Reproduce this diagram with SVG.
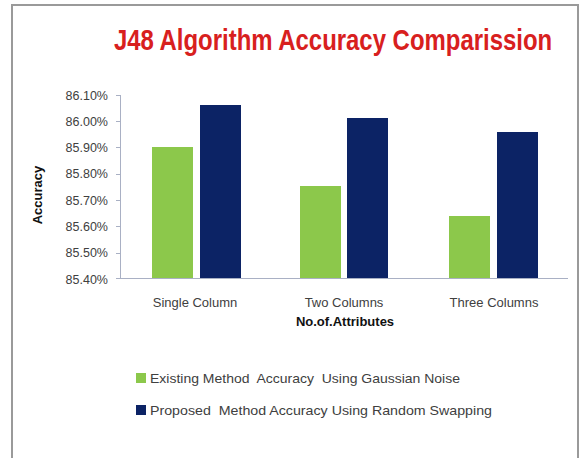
<svg xmlns="http://www.w3.org/2000/svg" width="581" height="458" viewBox="0 0 581 458">
<style>
.t{font-family:"Liberation Sans",Arial,sans-serif;fill:#404040}
.tick{font-size:12.5px;text-anchor:end}
.cat{font-size:13px;text-anchor:middle}
.ax{stroke:#A9B0C4;stroke-width:1;fill:none}
.g{fill:#8CC84B}
.n{fill:#0C2365}
.pre{white-space:pre}
</style>
<rect x="0" y="0" width="581" height="458" fill="#fff"/>
<path d="M12,460 V5 H578 V460" fill="none" stroke="#9a9a9a" stroke-width="2"/>
<g id="title">
<text transform="translate(333,50) scale(0.825,1)" text-anchor="middle" style="font-family:'Liberation Sans',Arial,sans-serif;font-weight:bold;font-size:29px;fill:#D8201E">J48 Algorithm Accuracy Comparission</text>
</g>
<g id="yaxis">
<path class="ax" d="M120.5,95 V279 M116,95.5 H120 M116,121.5 H120 M116,147.5 H120 M116,174.5 H120 M116,200.5 H120 M116,226.5 H120 M116,253.5 H120 M116,278.5 H120"/>
<g class="t tick">
<text x="108" y="99.5">86.10%</text>
<text x="108" y="125.5">86.00%</text>
<text x="108" y="152">85.90%</text>
<text x="108" y="178">85.80%</text>
<text x="108" y="204.5">85.70%</text>
<text x="108" y="231">85.60%</text>
<text x="108" y="257">85.50%</text>
<text x="108" y="283.5">85.40%</text>
</g>
<text class="t" transform="translate(42,195) rotate(-90)" text-anchor="middle" style="font-size:13px;font-weight:bold;fill:#111">Accuracy</text>
</g>
<g id="xaxis">
<path class="ax" d="M120,278.5 H568"/>
<g class="t cat">
<text x="195" y="307">Single Column</text>
<text x="344" y="307">Two Columns</text>
<text x="494" y="307">Three Columns</text>
</g>
<text class="t" x="345" y="326" text-anchor="middle" style="font-size:13px;font-weight:bold;fill:#111">No.of.Attributes</text>
</g>
<g id="bars">
<rect class="g" x="152" y="147" width="41" height="131"/>
<rect class="n" x="200" y="105" width="41" height="173"/>
<rect class="g" x="300" y="186" width="41" height="92"/>
<rect class="n" x="347" y="118" width="41" height="160"/>
<rect class="g" x="449" y="216" width="41" height="62"/>
<rect class="n" x="497" y="132" width="41" height="146"/>
</g>
<g id="legend">
<rect class="g" x="136" y="373" width="10" height="10"/>
<text class="t pre" x="150" y="383" textLength="310" lengthAdjust="spacingAndGlyphs" style="font-size:13px">Existing Method  Accuracy  Using Gaussian Noise</text>
<rect class="n" x="136" y="405" width="10" height="10"/>
<text class="t pre" x="150" y="415" textLength="342" lengthAdjust="spacingAndGlyphs" style="font-size:13px">Proposed  Method Accuracy Using Random Swapping</text>
</g>
</svg>
